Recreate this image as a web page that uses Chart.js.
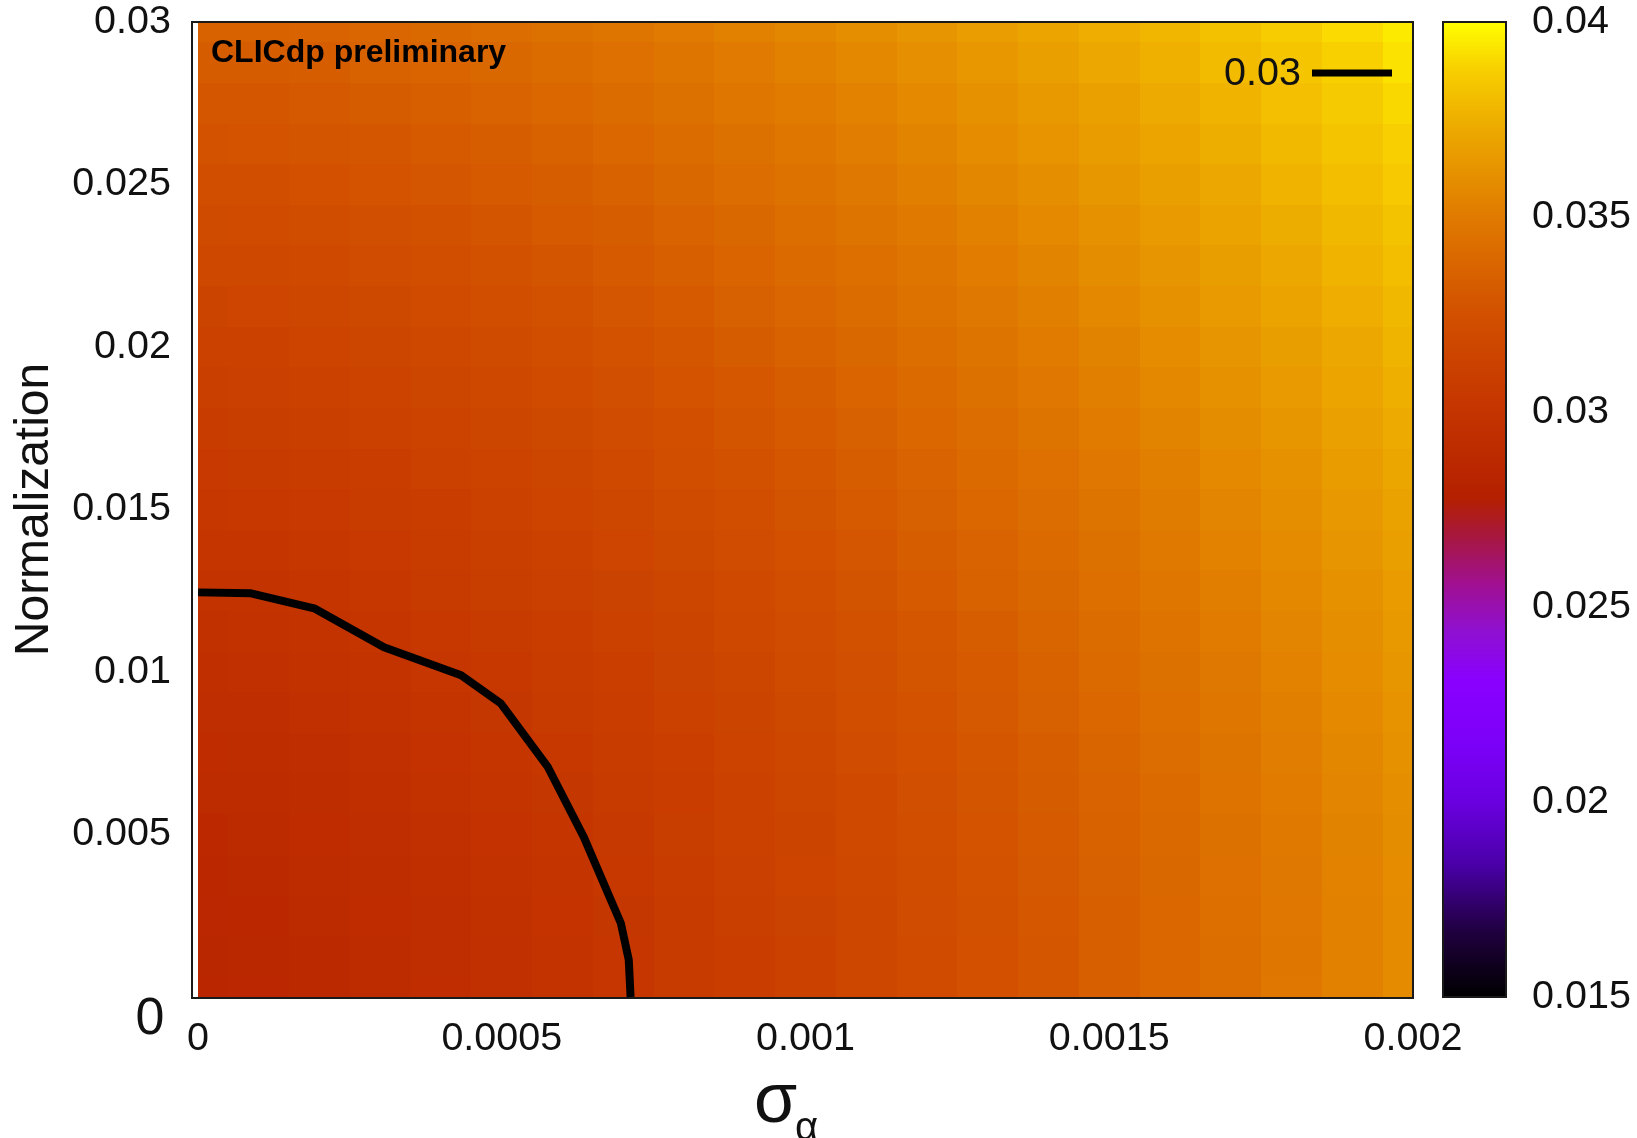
<!DOCTYPE html>
<html>
<head>
<meta charset="utf-8">
<script src="https://cdn.jsdelivr.net/npm/chart.js@4.4.1/dist/chart.umd.min.js"></script>
<style>
html,body{margin:0;padding:0;background:#ffffff;}
#wrap{width:1637px;height:1138px;position:relative;}
</style>
</head>
<body>
<div id="wrap"><canvas id="c" width="1637" height="1138"></canvas></div>
<script>
// ---------------- DATA ----------------
// grid nodes (sigma_alpha along x, Normalization along y)
const xNodes = [0,0.0001,0.0002,0.0003,0.0004,0.0005,0.0006,0.0007,0.0008,0.0009,0.001,
                0.0011,0.0012,0.0013,0.0014,0.0015,0.0016,0.0017,0.0018,0.0019,0.002];
const yNodes = [0,0.00125,0.0025,0.00375,0.005,0.00625,0.0075,0.00875,0.01,0.01125,0.0125,0.01375,
                0.015,0.01625,0.0175,0.01875,0.02,0.02125,0.0225,0.02375,0.025,0.02625,0.0275,0.02875,0.03];
// z values, one row per yNode (bottom row first), one entry per xNode
const zGrid = [
  [0.02850,0.02861,0.02879,0.02901,0.02927,0.02955,0.02985,0.03018,0.03052,0.03089,0.03127,0.03166,0.03207,0.03249,0.03293,0.03338,0.03384,0.03431,0.03480,0.03529,0.03580],
  [0.02854,0.02865,0.02883,0.02905,0.02930,0.02958,0.02988,0.03020,0.03055,0.03091,0.03128,0.03167,0.03208,0.03250,0.03294,0.03338,0.03384,0.03431,0.03479,0.03529,0.03579],
  [0.02862,0.02873,0.02890,0.02912,0.02937,0.02964,0.02994,0.03026,0.03060,0.03096,0.03133,0.03172,0.03213,0.03254,0.03298,0.03342,0.03387,0.03434,0.03482,0.03531,0.03581],
  [0.02872,0.02882,0.02900,0.02921,0.02946,0.02973,0.03003,0.03034,0.03068,0.03103,0.03141,0.03179,0.03219,0.03261,0.03304,0.03348,0.03393,0.03440,0.03487,0.03536,0.03586],
  [0.02884,0.02894,0.02911,0.02932,0.02956,0.02983,0.03013,0.03044,0.03078,0.03113,0.03150,0.03188,0.03228,0.03269,0.03312,0.03356,0.03401,0.03447,0.03494,0.03543,0.03592],
  [0.02898,0.02907,0.02924,0.02945,0.02969,0.02996,0.03025,0.03056,0.03089,0.03124,0.03161,0.03199,0.03238,0.03279,0.03322,0.03365,0.03410,0.03456,0.03503,0.03551,0.03600],
  [0.02913,0.02922,0.02938,0.02959,0.02983,0.03009,0.03038,0.03069,0.03102,0.03137,0.03173,0.03211,0.03250,0.03291,0.03333,0.03376,0.03421,0.03466,0.03513,0.03561,0.03610],
  [0.02929,0.02938,0.02954,0.02974,0.02998,0.03024,0.03053,0.03083,0.03116,0.03150,0.03186,0.03224,0.03263,0.03304,0.03345,0.03388,0.03433,0.03478,0.03525,0.03572,0.03621],
  [0.02946,0.02955,0.02971,0.02991,0.03014,0.03040,0.03069,0.03099,0.03131,0.03165,0.03201,0.03239,0.03277,0.03317,0.03359,0.03402,0.03446,0.03491,0.03537,0.03584,0.03633],
  [0.02965,0.02973,0.02989,0.03009,0.03032,0.03057,0.03085,0.03116,0.03148,0.03182,0.03217,0.03254,0.03293,0.03333,0.03374,0.03416,0.03460,0.03505,0.03551,0.03598,0.03646],
  [0.02985,0.02993,0.03008,0.03028,0.03050,0.03076,0.03104,0.03133,0.03165,0.03199,0.03234,0.03271,0.03309,0.03349,0.03390,0.03432,0.03475,0.03520,0.03566,0.03612,0.03660],
  [0.03005,0.03013,0.03028,0.03047,0.03070,0.03095,0.03123,0.03152,0.03184,0.03217,0.03252,0.03288,0.03326,0.03366,0.03406,0.03448,0.03492,0.03536,0.03581,0.03628,0.03676],
  [0.03027,0.03035,0.03049,0.03068,0.03091,0.03115,0.03143,0.03172,0.03203,0.03236,0.03271,0.03307,0.03345,0.03384,0.03424,0.03466,0.03509,0.03553,0.03598,0.03644,0.03692],
  [0.03049,0.03057,0.03071,0.03090,0.03112,0.03137,0.03163,0.03193,0.03224,0.03256,0.03291,0.03327,0.03364,0.03403,0.03443,0.03484,0.03527,0.03571,0.03616,0.03662,0.03709],
  [0.03073,0.03080,0.03094,0.03113,0.03134,0.03159,0.03185,0.03214,0.03245,0.03277,0.03312,0.03347,0.03384,0.03423,0.03463,0.03504,0.03546,0.03590,0.03635,0.03680,0.03727],
  [0.03097,0.03104,0.03118,0.03136,0.03158,0.03182,0.03208,0.03237,0.03267,0.03299,0.03333,0.03369,0.03405,0.03444,0.03483,0.03524,0.03566,0.03609,0.03654,0.03699,0.03746],
  [0.03122,0.03129,0.03143,0.03160,0.03182,0.03205,0.03232,0.03260,0.03290,0.03322,0.03356,0.03391,0.03427,0.03465,0.03505,0.03545,0.03587,0.03630,0.03674,0.03719,0.03766],
  [0.03148,0.03155,0.03168,0.03185,0.03206,0.03230,0.03256,0.03284,0.03314,0.03345,0.03379,0.03414,0.03450,0.03488,0.03527,0.03567,0.03609,0.03651,0.03695,0.03740,0.03786],
  [0.03175,0.03181,0.03194,0.03211,0.03232,0.03255,0.03281,0.03309,0.03338,0.03370,0.03403,0.03437,0.03473,0.03511,0.03550,0.03590,0.03631,0.03673,0.03717,0.03762,0.03807],
  [0.03202,0.03208,0.03221,0.03238,0.03258,0.03281,0.03307,0.03334,0.03363,0.03395,0.03427,0.03462,0.03497,0.03535,0.03573,0.03613,0.03654,0.03696,0.03739,0.03784,0.03829],
  [0.03230,0.03236,0.03249,0.03265,0.03285,0.03308,0.03333,0.03360,0.03390,0.03420,0.03453,0.03487,0.03522,0.03559,0.03598,0.03637,0.03678,0.03720,0.03763,0.03807,0.03852],
  [0.03259,0.03265,0.03277,0.03293,0.03313,0.03336,0.03360,0.03387,0.03416,0.03447,0.03479,0.03513,0.03548,0.03585,0.03623,0.03662,0.03702,0.03744,0.03787,0.03831,0.03875],
  [0.03289,0.03294,0.03306,0.03322,0.03342,0.03364,0.03388,0.03415,0.03444,0.03474,0.03506,0.03539,0.03574,0.03611,0.03648,0.03687,0.03728,0.03769,0.03811,0.03855,0.03900],
  [0.03319,0.03324,0.03336,0.03352,0.03371,0.03393,0.03417,0.03443,0.03472,0.03502,0.03533,0.03567,0.03601,0.03638,0.03675,0.03714,0.03754,0.03795,0.03837,0.03880,0.03925],
  [0.03350,0.03355,0.03366,0.03382,0.03401,0.03422,0.03446,0.03472,0.03500,0.03530,0.03562,0.03595,0.03629,0.03665,0.03702,0.03740,0.03780,0.03821,0.03863,0.03906,0.03950]
];
// contour line at level 0.03
const contourLevel = '0.03';
const contourX = [0,0.0000872,0.000191,0.000306,0.000433,0.000498,0.000576,0.000635,0.000696,0.000709,0.000712];
const contourY = [0.01245,0.01242,0.01196,0.01076,0.0099,0.00904,0.00707,0.00492,0.00227,0.00114,0];
// tick values
const xTickValues = [0,0.0005,0.001,0.0015,0.002];
const yTickValues = [0,0.005,0.01,0.015,0.02,0.025,0.03];
const cbTickValues = [0.015,0.02,0.025,0.03,0.035,0.04];
// colour palette stops
const cbStopValues = [0.015,0.0167,0.0184,0.0200,0.0215,0.0231,0.0244,0.0256,0.0269,0.0278,0.0300,0.0325,0.0350,0.0372,0.0388,0.0400];
const cbStopColors = ['#000000','#200040','#4a00a8','#6a00e0','#7c00f8','#8a00ff','#9010d0','#a01090','#a81838','#b42000','#c43400','#d25000','#e07a00','#eca800','#f8d000','#ffff00'];
// texts
const xTitleMain = 'σ';
const xTitleSub = 'α';
const yTitle = 'Normalization';
const stampText = 'CLICdp preliminary';

// ---------------- HELPERS ----------------
const FONT = '"Liberation Sans", Arial, Helvetica, sans-serif';
function hexToRgb(h){return [parseInt(h.slice(1,3),16),parseInt(h.slice(3,5),16),parseInt(h.slice(5,7),16)];}
const stopRgb = cbStopColors.map(hexToRgb);
function colorFor(v){
  if (v <= cbStopValues[0]) return cbStopColors[0];
  const n = cbStopValues.length;
  if (v >= cbStopValues[n-1]) return cbStopColors[n-1];
  for (let k=0;k<n-1;k++){
    if (v>=cbStopValues[k] && v<=cbStopValues[k+1]){
      const t=(v-cbStopValues[k])/(cbStopValues[k+1]-cbStopValues[k]);
      const a=stopRgb[k], b=stopRgb[k+1];
      return 'rgb('+Math.round(a[0]+(b[0]-a[0])*t)+','+Math.round(a[1]+(b[1]-a[1])*t)+','+Math.round(a[2]+(b[2]-a[2])*t)+')';
    }
  }
  return cbStopColors[n-1];
}
function fmt(v){return parseFloat(Number(v).toPrecision(6)).toString();}

// ---------------- PLUGINS ----------------
const heatmapPlugin = {
  id:'heatmap',
  beforeDatasetsDraw(chart){
    const {ctx, scales:{x, y}} = chart;
    const hx = (xNodes[1]-xNodes[0])/2, hy = (yNodes[1]-yNodes[0])/2;
    const xLo = xNodes[0], xHi = xNodes[xNodes.length-1];
    const yLo = yNodes[0], yHi = yNodes[yNodes.length-1];
    ctx.save();
    for (let j=0;j<yNodes.length;j++){
      for (let i=0;i<xNodes.length;i++){
        const x0=Math.max(xLo,xNodes[i]-hx), x1=Math.min(xHi,xNodes[i]+hx);
        const y0=Math.max(yLo,yNodes[j]-hy), y1=Math.min(yHi,yNodes[j]+hy);
        const px0=Math.round(x.getPixelForValue(x0)), px1=Math.round(x.getPixelForValue(x1));
        const py0=Math.round(y.getPixelForValue(y1)), py1=Math.round(y.getPixelForValue(y0));
        ctx.fillStyle=colorFor(zGrid[j][i]);
        ctx.fillRect(px0,py0,px1-px0,py1-py0);
      }
    }
    ctx.restore();
  }
};

const overlayPlugin = {
  id:'overlay',
  afterDraw(chart){
    const {ctx, chartArea:a, scales:{x, y, cb}} = chart;
    ctx.save();
    // plot frame
    ctx.strokeStyle='#1a1a1a'; ctx.lineWidth=2;
    ctx.strokeRect(a.left, a.top, a.right-a.left, a.bottom-a.top+1);
    // colour bar
    const cbLeft=a.right+30, cbW=63;
    const cbTop=cb.getPixelForValue(cbStopValues[cbStopValues.length-1]);
    const cbBot=cb.getPixelForValue(cbStopValues[0]);
    const g=ctx.createLinearGradient(0,cbBot,0,cbTop);
    const lo=cbStopValues[0], span=cbStopValues[cbStopValues.length-1]-lo;
    cbStopValues.forEach((v,k)=>g.addColorStop((v-lo)/span, cbStopColors[k]));
    ctx.fillStyle=g; ctx.fillRect(cbLeft,cbTop,cbW,cbBot-cbTop);
    ctx.strokeStyle='#1a1a1a'; ctx.lineWidth=2;
    ctx.strokeRect(cbLeft,cbTop,cbW,cbBot-cbTop);
    // stamp text
    ctx.fillStyle='#000'; ctx.font='bold 32px '+FONT; ctx.textAlign='left'; ctx.textBaseline='alphabetic';
    ctx.fillText(stampText, a.left+19, a.top+40);
    // legend for contour
    const ds = chart.data.datasets[0];
    ctx.font='39.5px '+FONT; ctx.textAlign='right'; ctx.textBaseline='middle'; ctx.fillStyle='#111';
    ctx.fillText(ds.label, a.right-112, a.top+52);
    ctx.strokeStyle=ds.borderColor; ctx.lineWidth=7; ctx.lineCap='butt';
    ctx.beginPath(); ctx.moveTo(a.right-101, a.top+51); ctx.lineTo(a.right-21, a.top+51); ctx.stroke();
    // the separate "0" label of the y axis
    ctx.font='52px '+FONT; ctx.textAlign='center'; ctx.textBaseline='alphabetic'; ctx.fillStyle='#111';
    ctx.fillText(fmt(yTickValues[0]), a.left-42, y.getPixelForValue(yTickValues[0])+37);
    // x axis title: sigma with alpha subscript
    const cx=(a.left+a.right)/2 - 20;
    ctx.font='70px '+FONT; ctx.textAlign='left';
    const wMain=ctx.measureText(xTitleMain).width;
    ctx.fillText(xTitleMain, cx-wMain/2-7, 1122);
    ctx.font='40px '+FONT;
    ctx.fillText(xTitleSub, cx+wMain/2-9, 1140);
    ctx.restore();
  }
};

// ---------------- CHART ----------------
const tickFont = {family:FONT, size:39.5, lineHeight:1};
function noPadV(s){s.paddingTop=0; s.paddingBottom=0;}
new Chart(document.getElementById('c').getContext('2d'), {
  type:'scatter',
  data:{datasets:[{
    label: contourLevel,
    data: contourX.map((v,k)=>({x:v, y:contourY[k]})),
    showLine:true, borderColor:'#000000', borderWidth:8, pointRadius:0, pointHoverRadius:0,
    tension:0, fill:false, borderCapStyle:'butt', borderJoinStyle:'round'
  }]},
  options:{
    responsive:false, animation:false, devicePixelRatio:1,
    layout:{padding:{top:22,left:0,right:0,bottom:0}},
    plugins:{legend:{display:false}, tooltip:{enabled:false}},
    scales:{
      x:{type:'linear', position:'bottom', min:-0.00001, max:0.002,
        grid:{display:false, drawTicks:false}, border:{display:false},
        afterBuildTicks:s=>{s.ticks=xTickValues.map(v=>({value:v}));},
        ticks:{callback:v=>fmt(v), font:tickFont, color:'#111', padding:22, maxRotation:0, minRotation:0, autoSkip:false},
        afterFit:s=>{s.height=141; s.paddingLeft=0; s.paddingRight=0;}
      },
      y:{type:'linear', position:'left', min:0, max:0.03,
        grid:{display:false, drawTicks:false}, border:{display:false},
        afterBuildTicks:s=>{s.ticks=yTickValues.map(v=>({value:v}));},
        ticks:{callback:v=>(v===0?'':fmt(v)), font:tickFont, color:'#111', padding:21, autoSkip:false},
        title:{display:true, text:yTitle, font:{family:FONT, size:48, lineHeight:1.2}, color:'#111', padding:{top:6,bottom:0}},
        afterFit:s=>{s.width=192; noPadV(s);}
      },
      cb:{type:'linear', position:'right', min:0.015, max:0.04,
        grid:{display:false, drawTicks:false}, border:{display:false},
        afterBuildTicks:s=>{s.ticks=cbTickValues.map(v=>({value:v}));},
        ticks:{callback:v=>fmt(v), font:tickFont, color:'#111', padding:119, autoSkip:false},
        afterFit:s=>{s.width=224; noPadV(s);}
      }
    }
  },
  plugins:[heatmapPlugin, overlayPlugin]
});
</script>
</body>
</html>
